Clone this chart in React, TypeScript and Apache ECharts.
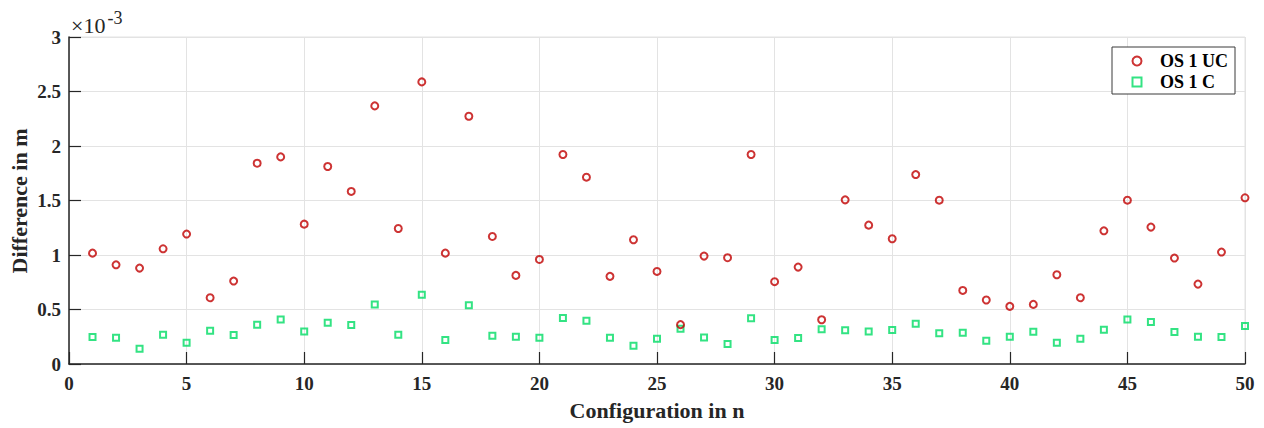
import React, { useEffect, useRef } from "react";
import * as echarts from "echarts";

// Configuration index 1..50
const configurations = Array.from({ length: 50 }, (_, i) => i + 1);

// Values in units of 1e-3 m
const os1UC = [
  1.017, 0.91, 0.88, 1.057, 1.192, 0.608, 0.761, 1.842, 1.9, 1.283,
  1.812, 1.583, 2.368, 1.243, 2.588, 1.017, 2.273, 1.17, 0.813, 0.959,
  1.922, 1.714, 0.804, 1.14, 0.849, 0.361, 0.99, 0.975, 1.922, 0.755,
  0.889, 0.406, 1.506, 1.274, 1.149, 1.738, 1.503, 0.675, 0.587, 0.529,
  0.547, 0.819, 0.608, 1.222, 1.503, 1.256, 0.972, 0.733, 1.027, 1.525,
];
const os1C = [
  0.247, 0.241, 0.141, 0.269, 0.196, 0.306, 0.266, 0.361, 0.409, 0.299,
  0.379, 0.357, 0.547, 0.269, 0.636, 0.22, 0.538, 0.26, 0.251, 0.241,
  0.422, 0.397, 0.241, 0.168, 0.232, 0.324, 0.244, 0.183, 0.419, 0.22,
  0.238, 0.318, 0.309, 0.299, 0.312, 0.37, 0.281, 0.287, 0.214, 0.251,
  0.296, 0.196, 0.232, 0.315, 0.409, 0.385, 0.293, 0.251, 0.247, 0.348,
];

const seriesNames = ["OS 1 UC", "OS 1 C"];
const FONT = "Liberation Serif";
const AXIS_COLOR = "#262626";
const GRID_COLOR = "#e3e3e3";
const RED = "#c00000";
const GREEN = "#00dc64";

export default function App() {
  const ref = useRef<HTMLDivElement>(null);
  useEffect(() => {
    if (!ref.current) return;
    const chart = echarts.init(ref.current, null, { renderer: "svg" });
    const axisCommon = {
      type: "value" as const,
      axisLine: { show: true, onZero: false, lineStyle: { color: AXIS_COLOR, width: 1.5 } },
      axisTick: { show: true, inside: true, length: 12, lineStyle: { color: AXIS_COLOR, width: 1.2 } },
      splitLine: { show: true, lineStyle: { color: GRID_COLOR, width: 1 } },
      axisLabel: {
        color: AXIS_COLOR,
        fontFamily: FONT,
        fontWeight: "bold" as const,
        fontSize: 19,
      },
    };
    chart.setOption({
      animation: false,
      backgroundColor: "#ffffff",
      grid: {
        left: 69,
        right: 19,
        top: 37,
        bottom: 64,
        show: true,
        borderColor: GRID_COLOR,
        borderWidth: 1,
      },
      xAxis: {
        ...axisCommon,
        min: 0,
        max: 50,
        interval: 5,
        axisLabel: { ...axisCommon.axisLabel, margin: 10 },
      },
      yAxis: {
        ...axisCommon,
        min: 0,
        max: 3,
        interval: 0.5,
        axisLabel: { ...axisCommon.axisLabel, margin: 8 },
      },
      legend: {
        show: true,
        orient: "vertical",
        left: 1112,
        top: 47,
        padding: [5, 7, 3, 19.5],
        itemGap: 3,
        itemWidth: 9,
        itemHeight: 9,
        backgroundColor: "#ffffff",
        borderColor: "#3a3a3a",
        borderWidth: 1,
        textStyle: {
          fontFamily: FONT,
          fontWeight: "bold",
          fontSize: 18,
          color: "#000000",
          padding: [0, 0, 0, 13.5],
        },
        data: seriesNames,
      },
      graphic: [
        {
          type: "text",
          x: 71,
          y: 25.5,
          style: {
            text: "×10",
            fontFamily: FONT,
            fontSize: 22,
            fill: "#262626",
            textAlign: "left",
            textVerticalAlign: "middle",
          },
        },
        {
          type: "text",
          x: 107.5,
          y: 18,
          style: {
            text: "-3",
            fontFamily: FONT,
            fontSize: 18,
            fill: "#262626",
            textAlign: "left",
            textVerticalAlign: "middle",
          },
        },
        {
          type: "text",
          x: 19,
          y: 201,
          rotation: Math.PI / 2,
          style: {
            text: "Difference in m",
            fontFamily: FONT,
            fontWeight: "bold",
            fontSize: 22,
            fill: "#262626",
            textAlign: "center",
            textVerticalAlign: "middle",
          },
        },
        {
          type: "text",
          x: 657,
          y: 410,
          style: {
            text: "Configuration in n",
            fontFamily: FONT,
            fontWeight: "bold",
            fontSize: 22,
            fill: "#262626",
            textAlign: "center",
            textVerticalAlign: "middle",
          },
        },
      ],
      series: [
        {
          name: seriesNames[0],
          type: "scatter",
          symbol: "circle",
          symbolSize: 7,
          itemStyle: { color: "rgba(255,255,255,0)", borderColor: RED, borderWidth: 2 },
          data: configurations.map((c, i) => [c, os1UC[i]]),
          z: 3,
        },
        {
          name: seriesNames[1],
          type: "scatter",
          symbol: "rect",
          symbolSize: 6,
          itemStyle: { color: "rgba(255,255,255,0)", borderColor: GREEN, borderWidth: 2 },
          data: configurations.map((c, i) => [c, os1C[i]]),
          z: 2,
        },
      ],
    });
    return () => chart.dispose();
  }, []);
  return (
    <div
      ref={ref}
      style={{ position: "absolute", left: 0, top: 0, width: 1264, height: 428 }}
    />
  );
}
